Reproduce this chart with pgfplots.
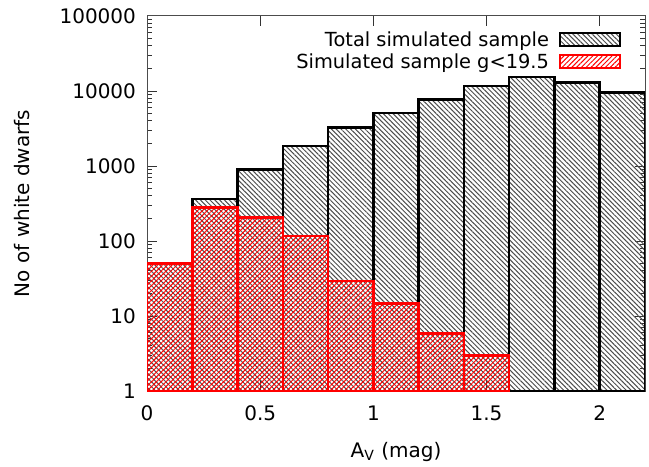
\documentclass[border=0pt]{standalone}
\usepackage{pgfplots}
\pgfplotsset{compat=1.18}
\usepackage{fontspec}
\setmainfont{DejaVu Sans}
\usetikzlibrary{patterns,patterns.meta}
\begin{document}
\fontsize{10}{12}\selectfont
\begin{tikzpicture}[font=\fontsize{10}{12}\selectfont]
\begin{axis}[
 scale only axis, width=249pt, height=187.5pt,
 ymode=log, ymin=1, ymax=100000, xmin=0, xmax=2.2,
 xtick={0,0.5,1,1.5,2}, xticklabels={0,0.5,1,1.5,2},
 ytick={1,10,100,1000,10000,100000},
 yticklabels={1,10,100,1000,10000,100000},
 /pgf/number format/assume math mode=true,
 tick align=inside,
 major tick length=5pt, minor tick length=2.5pt,
 axis line style={black!70, line width=0.5pt},
 every tick/.style={black!80, line width=0.5pt},
 xticklabel style={yshift=-4pt},
 yticklabel style={xshift=-2pt},
 xlabel={A\textsubscript{V} (mag)},
 ylabel={No of white dwarfs},
 xlabel style={at={(axis description cs:0.5,-0.1627)}, anchor=center},
 ylabel style={at={(axis description cs:-0.251,0.5)}, anchor=center},
 legend style={at={(axis description cs:1,1)}, anchor=north east, xshift=-12pt, yshift=-7.75pt,
   draw=none, fill=none, inner sep=0pt, outer sep=0pt,
   font=\fontsize{9.7}{11}\selectfont,
   nodes={inner sep=0pt, outer sep=0pt, text height=7pt, text depth=1.5pt},
   /tikz/row sep=2.5pt, /tikz/column sep=5pt},
 legend cell align=right, legend plot pos=right,
]
\addplot[ybar interval, draw=black, line width=1.3pt,
  pattern={Lines[angle=-45,distance=1.7pt,line width=0.5pt]}, pattern color=black!70,
  legend image code/.code={\draw[draw=black, line width=1pt, pattern={Lines[angle=-45,distance=1.7pt,line width=0.5pt]}, pattern color=black!70] (0pt,-2.4pt) rectangle (30pt,4.1pt);}]
 coordinates {(0,50.5) (0.2,363) (0.4,904) (0.6,1848) (0.8,3280) (1.0,5090) (1.2,7750) (1.4,11660) (1.6,15370) (1.8,12900) (2.0,9600) (2.2,9600)};
\addlegendentry{Total simulated sample}
\addplot[ybar interval, draw=red, line width=1.3pt,
  pattern={Lines[angle=45,distance=1.7pt,line width=0.5pt]}, pattern color=red,
  legend image code/.code={\draw[draw=red, line width=1pt, pattern={Lines[angle=45,distance=1.7pt,line width=0.5pt]}, pattern color=red] (0pt,-2.4pt) rectangle (30pt,4.1pt);}]
 coordinates {(0,50.5) (0.2,281) (0.4,207) (0.6,116) (0.8,29.3) (1.0,14.6) (1.2,5.8) (1.4,2.96) (1.6,2.96)};
\addlegendentry{Simulated sample g<19.5}
\end{axis}
\pgfresetboundingbox
\path ([shift={(-73.5pt,-37.5pt)}]current axis.south west) rectangle ([shift={(2pt,8pt)}]current axis.north east);
\end{tikzpicture}
\end{document}
